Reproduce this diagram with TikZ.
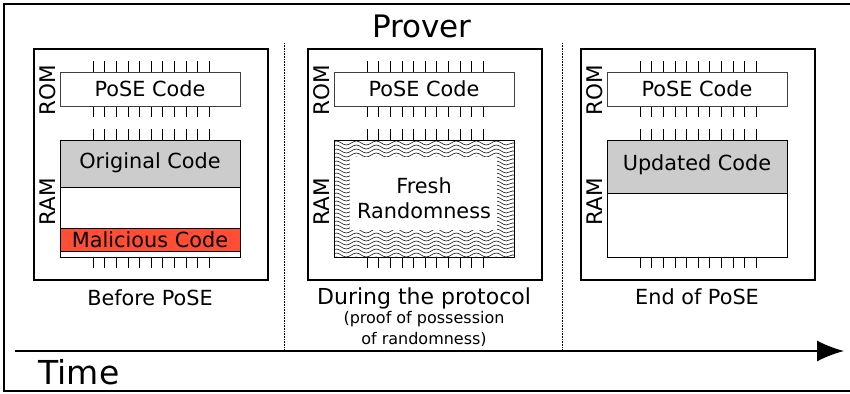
\documentclass[tikz,border=0pt]{standalone}
\usepackage{fontspec}
\setmainfont{DejaVu Sans}
\usetikzlibrary{arrows.meta, decorations.pathmorphing}

\definecolor{codegray}{RGB}{204,204,204}
\definecolor{malred}{RGB}{255,78,52}

\tikzset{
    chip/.style={draw, line width=1.6pt},
    membox/.style={draw, line width=1pt},
    pin/.style={line width=0.9pt},
    txt/.style={font=\fontsize{20.8}{23}\selectfont},
    side/.style={font=\fontsize{21.5}{23}\selectfont, rotate=90},
    small/.style={font=\fontsize{16}{18}\selectfont}
}

\begin{document}
\begin{tikzpicture}[x=1pt, y=-1pt]
            \useasboundingbox (0,0) rectangle (850,393);
            \draw[line width=2pt] (4,4) rectangle (860,391);
            \node (prover) at (422,26) [font=\fontsize{31}{33}\selectfont]{Prover};
            % phase separators
            \draw[densely dotted, line width=0.6pt] (284,43) -- (284,350);
            \draw[densely dotted, line width=0.6pt] (562,43) -- (562,350);
            % time axis
            \coordinate (tstart) at (15,351);
            \coordinate (tend) at (844,351);
            \draw[-{Latex[length=27pt,width=21pt]}, line width=1.6pt] (tstart) -- (tend);
            \node (time) at (79,372) [font=\fontsize{33}{35}\selectfont]{Time};
            % chips, ROM and pins
            \foreach \c in {34,308,581}{
                \draw[chip] (\c,49) rectangle (\c+234,280);
                \foreach \i in {0,...,10}{
                    \draw[pin] (\c+59+\i*11.65,61) -- (\c+59+\i*11.65,72);
                    \draw[pin] (\c+59+\i*11.65,106) -- (\c+59+\i*11.65,117);
                    \draw[pin] (\c+59+\i*11.65,129) -- (\c+59+\i*11.65,140);
                    \draw[pin] (\c+59+\i*11.65,257) -- (\c+59+\i*11.65,268);
                }
                \draw[line width=0.8pt, black!75] (\c+26,72) rectangle (\c+206,106);
                \node at (\c+116,89) [txt]{PoSE Code};
                \node at (\c+14,90) [side]{ROM};
                \node at (\c+14,202) [side]{RAM};
            }
            % before PoSE
            \fill[codegray] (60,140) rectangle (240,187);
            \fill[malred] (60,228) rectangle (240,251);
            \draw[line width=0.8pt] (60,187) -- (240,187);
            \draw[line width=0.8pt] (60,228) -- (240,228) (60,251) -- (240,251);
            \draw[membox] (60,140) rectangle (240,257);
            \node (orig) at (150,163) [txt]{Original Code};
            \node (mal) at (150,240) [txt]{Malicious Code};
            \node (before) at (150,298) [txt]{Before PoSE};
            % during the protocol
            \begin{scope}
                \clip (334,140) rectangle (514,257);
                \foreach \y in {143,147,...,259}{
                    \draw[line width=0.55pt, decorate,
                        decoration={snake, segment length=20pt, amplitude=2pt}]
                        (330,\y) -- (520,\y);
                }
            \end{scope}
            \fill[white] (350,157) rectangle (497,230);
            \draw[membox] (334,140) rectangle (514,257);
            \node (fresh) at (424,186) [txt]{Fresh};
            \node (rand) at (424,211) [txt]{Randomness};
            \node (during) at (424,298) [font=\fontsize{22}{24}\selectfont]{During the protocol};
            \node (proof) at (424,319) [small]{(proof of possession};
            \node (ofrand) at (424,339) [small]{of randomness)};
            % end of PoSE
            \fill[codegray] (607,140) rectangle (787,193);
            \draw[line width=0.8pt] (607,193) -- (787,193);
            \draw[membox] (607,140) rectangle (787,257);
            \node (upd) at (697,165) [txt]{Updated Code};
            \node (endpose) at (697,297) [txt]{End of PoSE};
        \end{tikzpicture}
\end{document}
